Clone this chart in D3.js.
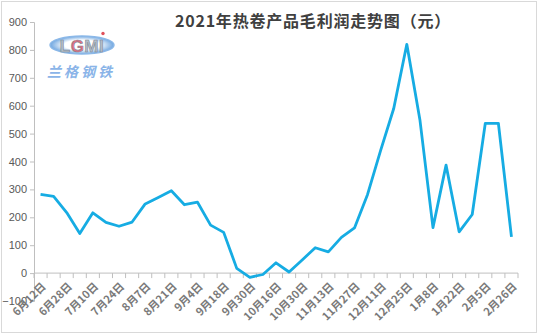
<!DOCTYPE html>
<html>
<head>
<meta charset="utf-8">
<script src="https://cdn.jsdelivr.net/npm/d3@7/dist/d3.min.js"></script>
<style>
  html, body { margin: 0; padding: 0; background: #fff; }
  svg { display: block; }
</style>
</head>
<body>
<svg id="chart" width="538" height="334"></svg>
<script>
// Weekly hot-rolled coil gross margin, yuan per tonne
const categories = [
  "6月12日", "6月19日", "6月28日", "7月3日", "7月10日", "7月17日", "7月24日", "7月31日",
  "8月7日", "8月14日", "8月21日", "8月28日", "9月4日", "9月11日", "9月18日", "9月24日",
  "9月30日", "10月9日", "10月16日", "10月23日", "10月30日", "11月6日", "11月13日", "11月20日",
  "11月27日", "12月4日", "12月11日", "12月18日", "12月25日", "1月1日", "1月8日", "1月15日",
  "1月22日", "1月29日", "2月5日", "2月19日", "2月26日"
];
const profit = [
  282, 275, 217, 142, 216, 182, 168, 183,
  248, 271, 295, 245, 254, 172, 146, 17,
  -15, -5, 37, 4, 47, 91, 76, 128,
  162, 282, 440, 590, 820, 550, 163, 387,
  148, 210, 537, 537, 130
];
const yTicks = [-100, 0, 100, 200, 300, 400, 500, 600, 700, 800, 900];
const title = "2021年热卷产品毛利润走势图（元）";

const svg = d3.select("#chart");
const W = 538, H = 334;
const plotLeft = 34, plotRight = 518, plotTop = 22, plotBottom = 301;

// outer frame
svg.append("rect")
  .attr("x", 1.5).attr("y", 1.5)
  .attr("width", W - 3).attr("height", H - 3)
  .attr("fill", "#fff").attr("stroke", "#d9d9d9").attr("stroke-width", 1);

const x = d3.scaleBand().domain(categories).range([plotLeft, plotRight]).padding(0);
const y = d3.scaleLinear().domain([-100, 900]).range([plotBottom, plotTop]);

const axisColor = "#bfbfbf";
const textColor = "#595959";

// y axis
const yAxis = svg.append("g")
  .attr("transform", `translate(${plotLeft},0)`)
  .call(d3.axisLeft(y).tickValues(yTicks).tickSize(4).tickPadding(3).tickFormat(d3.format("d")));
yAxis.select(".domain").attr("stroke", axisColor);
yAxis.selectAll(".tick line").attr("stroke", axisColor);
yAxis.selectAll(".tick text")
  .attr("fill", textColor)
  .style("font-family", "Liberation Sans, Arial, sans-serif")
  .style("font-size", "11px");

// x axis at zero, ticks on category boundaries
const y0 = y(0);
const gx = svg.append("g");
gx.append("line")
  .attr("x1", plotLeft).attr("x2", plotRight)
  .attr("y1", y0).attr("y2", y0)
  .attr("stroke", axisColor);
const boundaries = categories.map(c => x(c)).concat([x(categories[categories.length - 1]) + x.bandwidth()]);
gx.selectAll("line.tk")
  .data(boundaries)
  .join("line")
  .attr("class", "tk")
  .attr("x1", d => d).attr("x2", d => d)
  .attr("y1", y0).attr("y2", y0 + 5)
  .attr("stroke", axisColor);

// category labels, every second week
gx.selectAll("text.lbl")
  .data(categories.filter((c, i) => i % 2 === 0))
  .join("text")
  .attr("class", "lbl")
  .attr("transform", d => `translate(${x(d) + x.bandwidth() / 2 + 4},${y0 + 12}) rotate(-45)`)
  .attr("text-anchor", "end")
  .attr("dominant-baseline", "middle")
  .attr("fill", "#7a7a7a")
  .style("font-family", "Noto Sans CJK SC, sans-serif")
  .style("font-size", "11px")
  .style("font-weight", "bold")
  .text(d => d);

// profit line
const line = d3.line()
  .x((d, i) => x(categories[i]) + x.bandwidth() / 2)
  .y(d => y(d));
svg.append("path")
  .datum(profit)
  .attr("d", line)
  .attr("fill", "none")
  .attr("stroke", "#16ace3")
  .attr("stroke-width", 2.8)
  .attr("stroke-linejoin", "round");

// title
svg.append("text")
  .attr("x", 313).attr("y", 27)
  .attr("text-anchor", "middle")
  .attr("fill", "#404040")
  .style("font-family", "Noto Sans CJK SC, sans-serif")
  .style("font-size", "16px")
  .style("font-weight", "bold")
  .style("letter-spacing", "0.8px")
  .text(title);

// brand mark
const defs = svg.append("defs");
const grad = defs.append("radialGradient").attr("id", "lg");
grad.append("stop").attr("offset", "55%").attr("stop-color", "#ffffff");
grad.append("stop").attr("offset", "100%").attr("stop-color", "#6fa6e0");
const logo = svg.append("g").attr("transform", "translate(82,45)");
logo.append("ellipse")
  .attr("rx", 32).attr("ry", 9)
  .attr("fill", "url(#lg)")
  .attr("stroke", "#8bb8e8").attr("stroke-width", 1.5);
logo.append("text")
  .attr("text-anchor", "middle").attr("y", 6.5)
  .style("font-family", "Liberation Sans, Arial, sans-serif")
  .style("font-size", "17px").style("font-weight", "bold")
  .style("letter-spacing", "0.5px")
  .attr("stroke", "#7f8a96").attr("stroke-width", 0.6)
  .selectAll("tspan")
  .data([["L", "#b4bec9"], ["G", "#e46c7e"], ["M", "#b4bec9"], ["I", "#b4bec9"]])
  .join("tspan")
  .attr("fill", d => d[1])
  .text(d => d[0]);
logo.append("circle").attr("cx", 21).attr("cy", -11.5).attr("r", 1.7).attr("fill", "#e0505a");
svg.append("text")
  .attr("x", 81).attr("y", 77)
  .attr("text-anchor", "middle")
  .attr("fill", "#8ab4e8")
  .style("font-family", "Noto Sans CJK SC, sans-serif")
  .style("font-size", "14px")
  .style("font-weight", "bold")
  .style("font-style", "italic")
  .style("letter-spacing", "3px")
  .text("兰格钢铁");
</script>
</body>
</html>
